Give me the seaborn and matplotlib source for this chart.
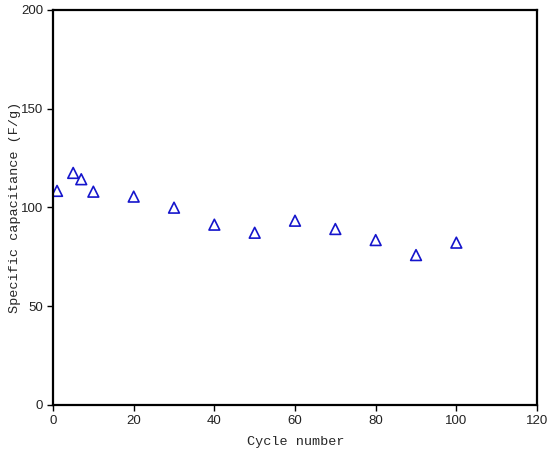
import pandas as pd
import matplotlib
matplotlib.use("Agg")
import matplotlib.pyplot as plt
import seaborn as sns

# values
cycles = [1, 5, 7, 10, 20, 30, 40, 50, 60, 70, 80, 90, 100]
capacitance = [108.4, 117.5, 114.3, 108.0, 105.5, 99.9, 91.3, 87.2, 93.3, 89.1, 83.5, 75.9, 82.2]

df = pd.DataFrame({'Cycle': cycles, 'Capacitance': capacitance})

sns.set_style('white')
plt.rcParams['font.family'] = ['Liberation Sans', 'DejaVu Sans']

fig = plt.figure(figsize=(5.5, 4.53), dpi=100)
ax = fig.add_axes([0.0964, 0.106, 0.88, 0.872])

sns.scatterplot(data=df, x='Cycle', y='Capacitance', ax=ax, marker='^', s=60,
                facecolors='none', edgecolor='#1515cc', linewidth=1.2)

ax.set_xlim(0, 120)
ax.set_ylim(0, 200)
ax.set_xticks(range(0, 121, 20))
ax.set_yticks(range(0, 201, 50))

for sp in ax.spines.values():
    sp.set_color('black')
    sp.set_linewidth(1.6)

ax.tick_params(axis='both', which='both', direction='out', length=4, width=1,
               labelsize=9.5, color='black', labelcolor='#222222', pad=3)
ax.tick_params(top=False, right=False, bottom=True, left=True)

ax.set_xlabel('Cycle number', family='Liberation Mono', fontsize=9.7)
ax.set_ylabel('Specific capacitance (F/g)', family='Liberation Mono', fontsize=9.7)
# label centers placed in figure pixels like the reference
ax.xaxis.set_label_coords(296 / 550, 1 - 442 / 453, transform=fig.transFigure)
ax.yaxis.set_label_coords(15 / 550, 1 - 207 / 453, transform=fig.transFigure)
ax.xaxis.label.set_va('center')
ax.yaxis.label.set_va('center')

fig.savefig('out.png', dpi=100)
